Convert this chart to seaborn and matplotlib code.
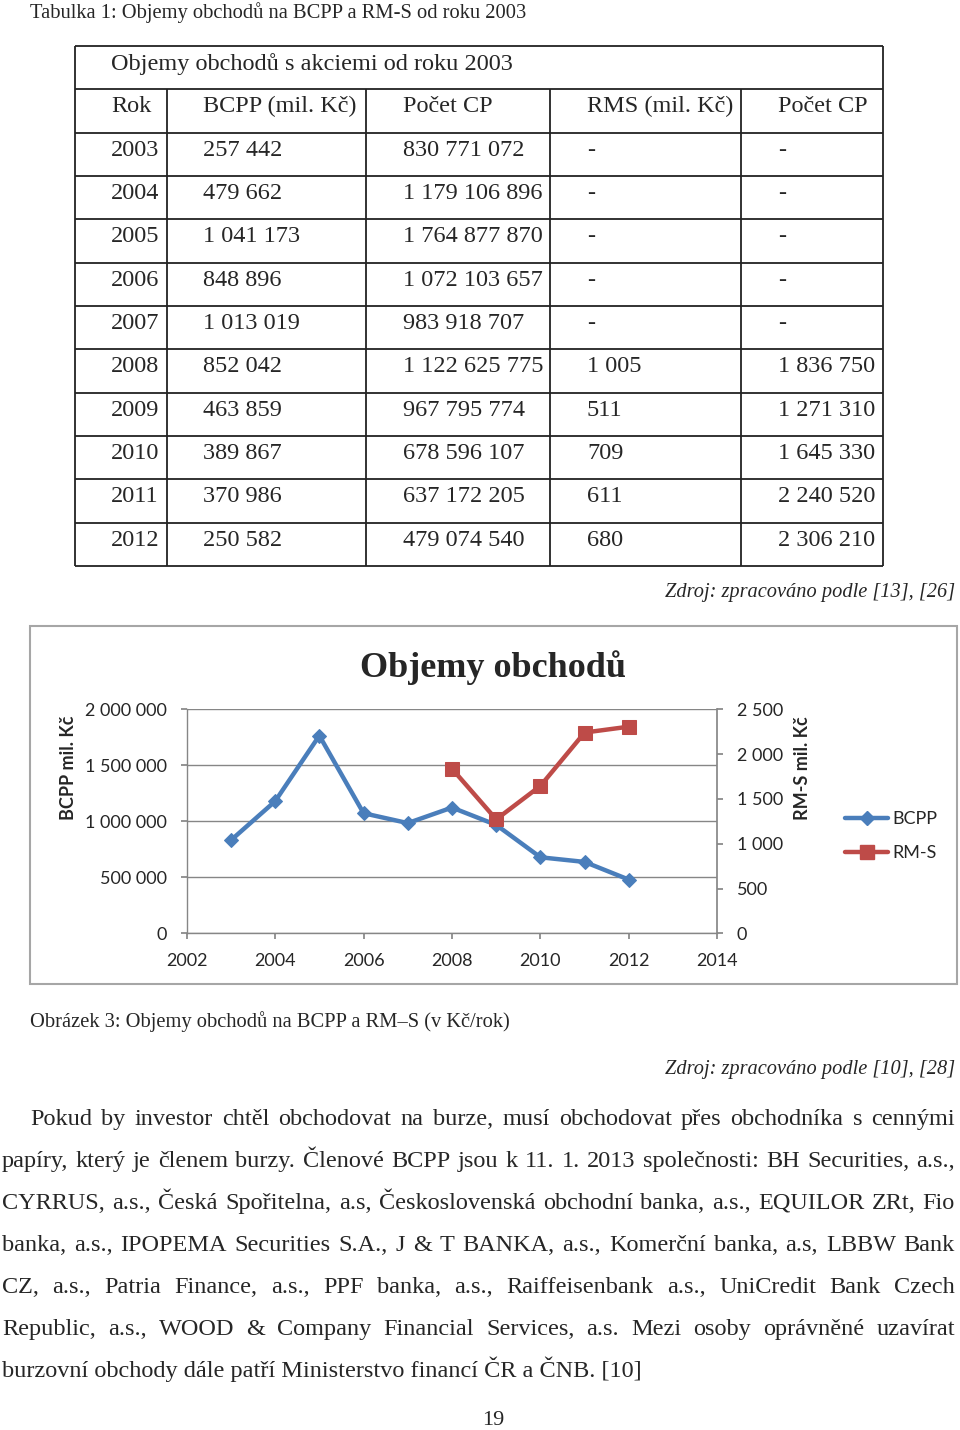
import numpy as np
import pandas as pd
import matplotlib
matplotlib.use("Agg")
import matplotlib.pyplot as plt
from matplotlib.lines import Line2D
from matplotlib.patches import Rectangle
import seaborn as sns

sns.set_theme(style="white")
plt.rcParams['font.family'] = ['Liberation Serif', 'DejaVu Serif']

# --- data (tabulka 1) ---
roky = [2003, 2004, 2005, 2006, 2007, 2008, 2009, 2010, 2011, 2012]
bcpp_mil = [257442, 479662, 1041173, 848896, 1013019, 852042, 463859, 389867, 370986, 250582]
bcpp_pocet = [830771072, 1179106896, 1764877870, 1072103657, 983918707,
              1122625775, 967795774, 678596107, 637172205, 479074540]
rms_mil = [None, None, None, None, None, 1005, 511, 709, 611, 680]
rms_pocet = [None, None, None, None, None, 1836750, 1271310, 1645330, 2240520, 2306210]

hlavicka = ["Rok", "BCPP (mil. Kč)", "Počet CP", "RMS (mil. Kč)", "Počet CP"]
x_ticks = [2002, 2004, 2006, 2008, 2010, 2012, 2014]
y_left = [0, 500000, 1000000, 1500000, 2000000]
y_right = [0, 500, 1000, 1500, 2000, 2500]

odstavec = [
    "Pokud by investor chtěl obchodovat na burze, musí obchodovat přes obchodníka s cennými",
    "papíry, který je členem burzy. Členové BCPP jsou k 11. 1. 2013 společnosti: BH Securities, a.s.,",
    "CYRRUS, a.s., Česká Spořitelna, a.s, Československá obchodní banka, a.s., EQUILOR ZRt, Fio",
    "banka, a.s., IPOPEMA Securities S.A., J & T BANKA, a.s., Komerční banka, a.s, LBBW Bank",
    "CZ, a.s., Patria Finance, a.s., PPF banka, a.s., Raiffeisenbank a.s., UniCredit Bank Czech",
    "Republic, a.s., WOOD & Company Financial Services, a.s. Mezi osoby oprávněné uzavírat",
    "burzovní obchody dále patří Ministerstvo financí ČR a ČNB. [10]",
]


def fmt(v):
    if v is None:
        return "-"
    return f"{v:,}".replace(",", " ")


blue = "#4A7EBB"
red = "#BE4B48"
grey = "#868686"
sans = "Lato"

fig = plt.figure(figsize=(9.6, 14.3), dpi=100)
renderer = fig.canvas.get_renderer()

# page axes in pixel coordinates
page = fig.add_axes([0, 0, 1, 1])
page.set_xlim(0, 960)
page.set_ylim(1430, 0)
page.axis("off")


def fit(x, y, s, width, **kw):
    # set font size so that the text has the given pixel width
    t = page.text(x, y, s, fontsize=12, va="baseline", **kw)
    w = t.get_window_extent(renderer).width
    t.set_fontsize(12 * width / w)
    return t


def justify(y, line, x0, x1, size):
    words = line.split(" ")
    ts = [page.text(0, y, w, fontsize=size, va="baseline") for w in words]
    ws = [t.get_window_extent(renderer).width for t in ts]
    gap = (x1 - x0 - sum(ws)) / (len(words) - 1)
    x = x0
    for t, w in zip(ts, ws):
        t.set_x(x)
        x += w + gap


# captions
fit(30, 18, "Tabulka 1: Objemy obchodů na BCPP a RM-S od roku 2003", 496)

# table
row_h = (566 - 46) / 12
rows_y = [46 + row_h * i for i in range(13)]
cols_x = [75, 167, 366, 550, 741, 883]
text_x = [111, 203, 403, 587, 778]
page.hlines(rows_y, 75, 883, color="#222222", lw=1.3)
page.vlines([75, 883], 46, 566, color="#222222", lw=1.3)
page.vlines(cols_x[1:-1], rows_y[1], 566, color="#222222", lw=1.3)

tsize = 17.5
page.text(111, rows_y[0] + 24, "Objemy obchodů s akciemi od roku 2003", fontsize=tsize, va="baseline")
for j, h in enumerate(hlavicka):
    page.text(text_x[j], rows_y[1] + 23, h, fontsize=tsize, va="baseline")
for i, r in enumerate(roky):
    vals = [str(r), fmt(bcpp_mil[i]), fmt(bcpp_pocet[i]), fmt(rms_mil[i]), fmt(rms_pocet[i])]
    for j, v in enumerate(vals):
        page.text(text_x[j], rows_y[i + 2] + 23, v, fontsize=tsize, va="baseline")

fit(955, 597, "Zdroj: zpracováno podle [13], [26]", 290, ha="right", style="italic")

# chart frame
page.add_patch(Rectangle((30, 626), 927, 358, fill=False, ec="#A6A6A6", lw=1.5))
page.text(493, 677, "Objemy obchodů", fontsize=26, fontweight="bold", ha="center", va="baseline")
page.text(68, 768, "BCPP mil. Kč", rotation=90, ha="center", va="center",
          fontsize=13, fontweight="bold", family=sans)
page.text(802, 768, "RM-S mil. Kč", rotation=90, ha="center", va="center",
          fontsize=13, fontweight="bold", family=sans)

# chart
df = pd.DataFrame({"rok": roky,
                   "bcpp": [v / 1000 for v in bcpp_pocet],
                   "rms": [np.nan if v is None else v / 1000 for v in rms_pocet]})

ax = fig.add_axes([186.7 / 960, 1 - 933.3 / 1430, (717.3 - 186.7) / 960, 224 / 1430])
ax.patch.set_visible(False)
sns.lineplot(data=df, x="rok", y="bcpp", ax=ax, color=blue, marker="D", markersize=7,
             markeredgecolor=blue, linewidth=3.2)
ax.set_xlim(2002, 2014)
ax.set_ylim(0, 2000000)
ax.set_xticks(x_ticks, [str(v) for v in x_ticks], fontfamily=sans, fontsize=13)
ax.set_yticks(y_left, [fmt(v) for v in y_left], fontfamily=sans, fontsize=13)
ax.set_xlabel("")
ax.set_ylabel("")
ax.yaxis.grid(True, color=grey, lw=1)
ax.xaxis.grid(False)
for s in ["top", "right"]:
    ax.spines[s].set_visible(False)
for s in ["left", "bottom"]:
    ax.spines[s].set_color(grey)
    ax.spines[s].set_linewidth(1)
ax.tick_params(axis="x", bottom=True, direction="out", length=4, color=grey, pad=10)
ax.tick_params(axis="y", left=True, direction="out", length=4, color=grey, pad=10)

ax2 = ax.twinx()
ax2.patch.set_visible(False)
sns.lineplot(data=df.dropna(), x="rok", y="rms", ax=ax2, color=red, marker="s", markersize=10,
             markeredgecolor=red, linewidth=3.2)
ax2.set_ylim(0, 2500)
ax2.set_yticks(y_right, [fmt(v) for v in y_right], fontfamily=sans, fontsize=13)
ax2.set_ylabel("")
ax2.grid(False)
for s in ["top", "left", "bottom"]:
    ax2.spines[s].set_visible(False)
ax2.spines["right"].set_color(grey)
ax2.tick_params(axis="y", right=True, direction="out", length=4, color=grey, pad=10)

handles = [Line2D([], [], color=blue, lw=3.2, marker="D", markersize=7),
           Line2D([], [], color=red, lw=3.2, marker="s", markersize=10)]
ax2.legend(handles, ["BCPP", "RM-S"], loc="center left",
           bbox_to_anchor=(845 / 960, 1 - 836 / 1430), bbox_transform=fig.transFigure,
           frameon=False, handlelength=2.4, handletextpad=0.2, labelspacing=1.0,
           borderaxespad=0, borderpad=0, prop={"family": sans, "size": 13})

fit(30, 1027, "Obrázek 3: Objemy obchodů na BCPP a RM–S (v Kč/rok)", 479)
fit(955, 1074, "Zdroj: zpracováno podle [10], [28]", 290, ha="right", style="italic")

# paragraph
psize = 17.5
base = [1125 + 42 * i for i in range(len(odstavec))]
for i, line in enumerate(odstavec[:-1]):
    justify(base[i], line, 30 if i == 0 else 2, 955, psize)
page.text(2, base[-1], odstavec[-1], fontsize=psize, va="baseline")

page.text(493, 1425, "19", fontsize=16, ha="center", va="baseline")

fig.savefig("out.png", dpi=100)
